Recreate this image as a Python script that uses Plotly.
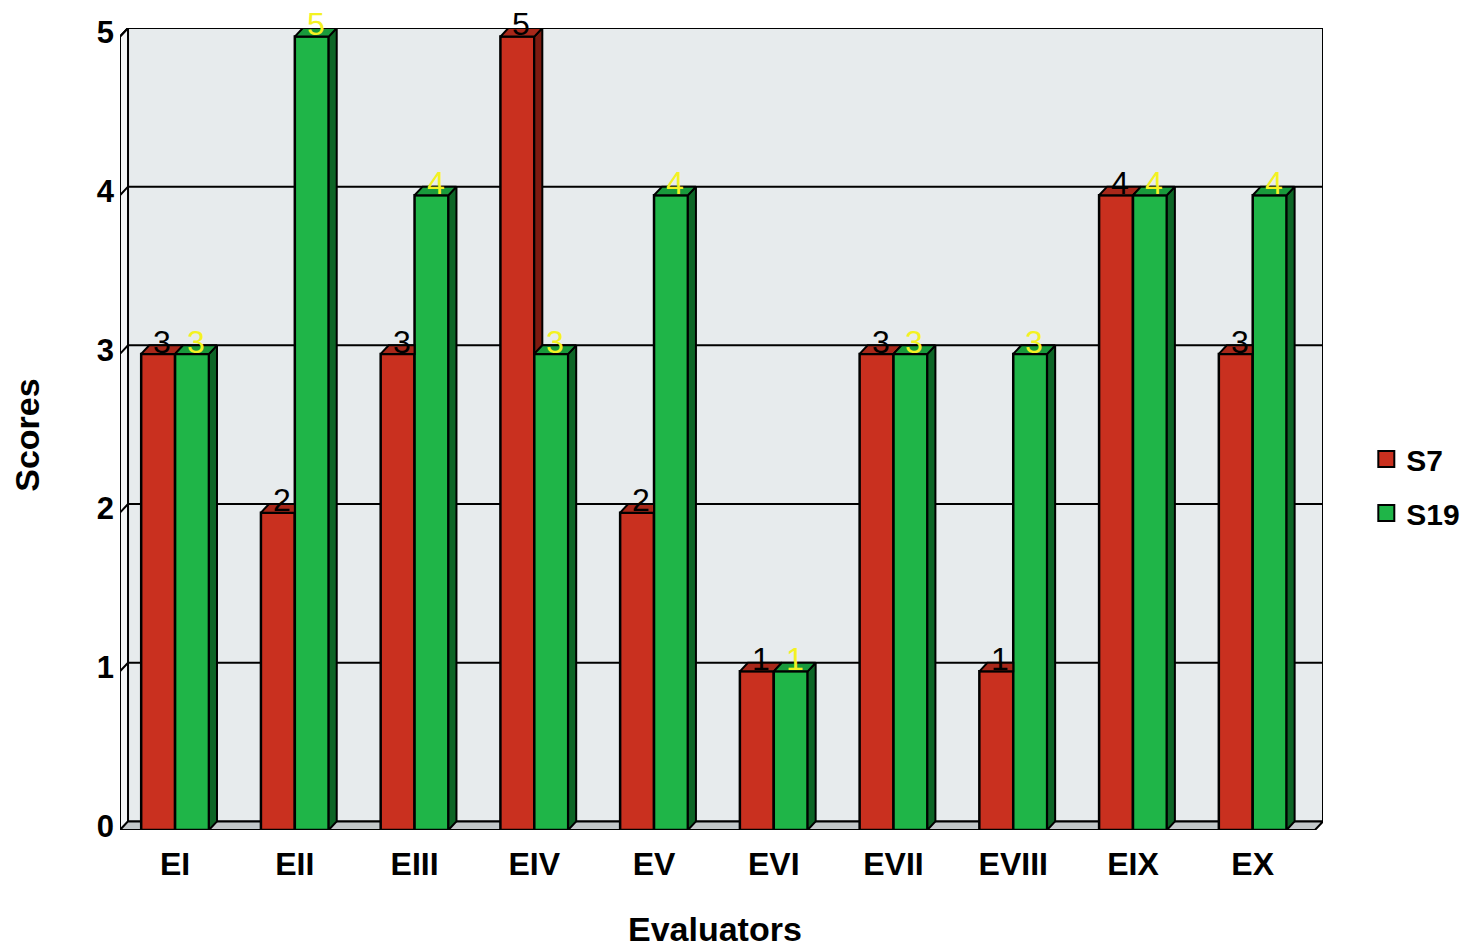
import plotly.graph_objects as go

# Scores per evaluator for the two samples
evaluators = ["EI", "EII", "EIII", "EIV", "EV", "EVI", "EVII", "EVIII", "EIX", "EX"]
s7_scores = [3, 2, 3, 5, 2, 1, 3, 1, 4, 3]
s19_scores = [3, 5, 4, 3, 4, 1, 3, 3, 4, 4]
score_ticks = [0, 1, 2, 3, 4, 5]

# Pseudo-3D geometry (in axis units)
W = 0.283    # width of one bar face
DX = 0.067   # depth offset along x
DY = 0.054   # depth offset along y
XL, XR = -0.46, 9.52   # front edges of the floor

RED, RED_SIDE, RED_TOP = "#c9301f", "#7c1a10", "#a8281a"
GREEN, GREEN_SIDE, GREEN_TOP = "#1fb548", "#0d6526", "#199a3c"
FONT = "Liberation Sans, Arial, sans-serif"

idx = list(range(len(evaluators)))

fig = go.Figure()

# Front faces
fig.add_trace(go.Bar(x=idx, y=s7_scores, width=W, offset=-W, name="S7",
                     marker=dict(color=RED, line=dict(color="black", width=2.5)),
                     showlegend=False))
fig.add_trace(go.Bar(x=idx, y=s19_scores, width=W, offset=0, name="S19",
                     marker=dict(color=GREEN, line=dict(color="black", width=2.5)),
                     showlegend=False))


def poly_trace(polys, color):
    xs, ys = [], []
    for p in polys:
        for (px, py) in p + [p[0]]:
            xs.append(px)
            ys.append(py)
        xs.append(None)
        ys.append(None)
    return go.Scatter(x=xs, y=ys, mode="lines", fill="toself", fillcolor=color,
                      line=dict(color="black", width=2), hoverinfo="skip",
                      showlegend=False, cliponaxis=False)


# S7 side faces (only where they rise above the S19 bar in front of them)
red_sides, red_tops = [], []
for i, r, g in zip(idx, s7_scores, s19_scores):
    if r > g:
        red_sides.append([(i, g), (i + DX, g + DY), (i + DX, r + DY), (i, r)])
    xl = i - W
    if r < g:
        red_tops.append([(xl, r), (i, r), (i, r + DY), (xl + DX, r + DY)])
    else:
        red_tops.append([(xl, r), (i, r), (i + DX, r + DY), (xl + DX, r + DY)])

green_sides, green_tops = [], []
for i, g in zip(idx, s19_scores):
    xr = i + W
    green_sides.append([(xr, 0), (xr + DX, DY), (xr + DX, g + DY), (xr, g)])
    green_tops.append([(i, g), (xr, g), (xr + DX, g + DY), (i + DX, g + DY)])

if red_sides:
    fig.add_trace(poly_trace(red_sides, RED_SIDE))
fig.add_trace(poly_trace(red_tops, RED_TOP))
fig.add_trace(poly_trace(green_sides, GREEN_SIDE))
fig.add_trace(poly_trace(green_tops, GREEN_TOP))

# Legend entries
fig.add_trace(go.Scatter(x=[None], y=[None], mode="markers", name="S7", legendgroup="a",
                         marker=dict(symbol="square", size=20, color=RED,
                                     line=dict(color="black", width=2))))
fig.add_trace(go.Scatter(x=[None], y=[None], mode="markers", name="S19", legendgroup="b",
                         marker=dict(symbol="square", size=20, color=GREEN,
                                     line=dict(color="black", width=2))))

# Value labels on top of each bar
annotations = []
for i, r, g in zip(idx, s7_scores, s19_scores):
    annotations.append(dict(x=i - W / 2 + DX / 2, y=r + DY / 2, text=str(r), showarrow=False,
                            yshift=8, font=dict(family=FONT, size=32, color="black")))
    annotations.append(dict(x=i + W / 2 + DX / 2, y=g + DY / 2, text=str(g), showarrow=False,
                            yshift=8, font=dict(family=FONT, size=32, color="#f4f222")))

# Axis titles
annotations.append(dict(text="Evaluators", xref="paper", yref="paper", x=0.495, y=-0.124,
                        showarrow=False, xanchor="center", yanchor="middle",
                        font=dict(family=FONT, size=34, color="black", weight="bold")))
annotations.append(dict(text="Scores", xref="paper", yref="paper", x=-0.0775, y=0.4925,
                        showarrow=False, xanchor="center", yanchor="middle", textangle=-90,
                        font=dict(family=FONT, size=34, color="black", weight="bold")))

# Walls, floor and grid lines
top = max(score_ticks)
shapes = [
    dict(type="rect", xref="x", yref="y", x0=XL + DX, x1=XR + DX, y0=DY, y1=top + DY,
         fillcolor="#e7ebed", line=dict(color="black", width=2), layer="below"),
    dict(type="path", xref="x", yref="y",
         path=f"M {XL},0 L {XL + DX},{DY} L {XL + DX},{top + DY} L {XL},{top} Z",
         fillcolor="#f3f5f6", line=dict(color="black", width=2), layer="below"),
    dict(type="path", xref="x", yref="y",
         path=f"M {XL},0 L {XR},0 L {XR + DX},{DY} L {XL + DX},{DY} Z",
         fillcolor="#c3c8ca", line=dict(color="black", width=2), layer="below"),
]
for v in score_ticks[1:]:
    shapes.append(dict(type="path", xref="x", yref="y",
                       path=f"M {XL},{v} L {XL + DX},{v + DY} L {XR + DX},{v + DY}",
                       line=dict(color="black", width=2), layer="below"))

fig.update_layout(
    width=1479, height=952,
    margin=dict(l=120, r=156, t=28, b=122),
    paper_bgcolor="white", plot_bgcolor="white",
    barmode="overlay",
    shapes=shapes,
    annotations=annotations,
    font=dict(family=FONT, color="black"),
    legend=dict(x=1.036, y=0.495, xanchor="left", yanchor="top",
                font=dict(family=FONT, size=30, color="black", weight="bold"),
                traceorder="grouped", tracegroupgap=12, bgcolor="rgba(0,0,0,0)"),
    xaxis=dict(range=[XL, XR + DX], tickvals=idx, ticktext=evaluators,
               showgrid=False, zeroline=False, showline=False, ticks="",
               ticklabelstandoff=12, automargin=False,
               tickfont=dict(family=FONT, size=32, color="black", weight="bold")),
    yaxis=dict(range=[0, top + DY], tickvals=[v + DY / 2 for v in score_ticks],
               ticktext=[str(v) for v in score_ticks],
               showgrid=False, zeroline=False, showline=False, ticks="",
               ticklabelstandoff=5, automargin=False,
               tickfont=dict(family=FONT, size=31, color="black", weight="bold")),
)

fig.write_html("out.html")
